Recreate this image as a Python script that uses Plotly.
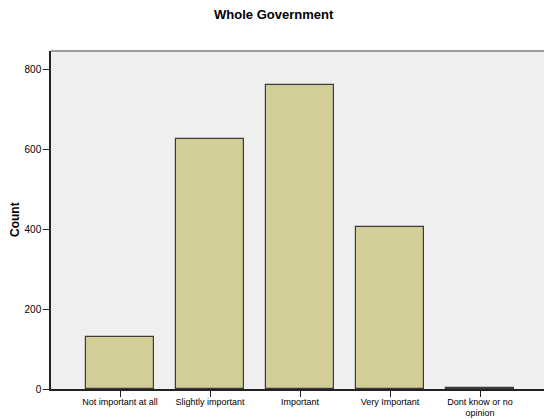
import plotly.graph_objects as go

categories = ["Not important at all", "Slightly important", "Important", "Very Important", "Dont know or no<br>opinion"]
counts = [131, 625, 760, 405, 3]
y_ticks = [0, 200, 400, 600, 800]

fig = go.Figure()
fig.add_trace(go.Bar(
    x=list(range(len(categories))), y=counts, width=0.755,
    marker=dict(color="#D3CE98", line=dict(color="#3C3C3C", width=1.2)),
))
fig.update_layout(
    width=544, height=419,
    margin=dict(l=51, r=0, t=51, b=30, autoexpand=False),
    paper_bgcolor="white", plot_bgcolor="#EFEFEF",
    font=dict(family="Liberation Sans, Arial, sans-serif", color="black"),
    title=dict(text="<b>Whole Government</b>", x=0.503, xanchor="center", y=0.965, yanchor="middle",
               font=dict(size=13)),
    showlegend=False,
    bargap=0,
)
fig.update_xaxes(
    range=[-0.767, 4.711], tickmode="array", tickvals=list(range(len(categories))),
    ticktext=categories, showgrid=False, zeroline=False, automargin=False,
    showline=True, linecolor="#222222", linewidth=1.5,
    ticks="outside", ticklen=6, tickcolor="#222222", tickfont=dict(size=9),
    ticklabelstandoff=-3,
)
fig.update_yaxes(
    range=[0, 845], tickmode="array", tickvals=y_ticks, showgrid=False, zeroline=False,
    automargin=False,
    showline=True, linecolor="#222222", linewidth=1.5,
    ticks="outside", ticklen=6, tickcolor="#222222", tickfont=dict(size=10),
)
fig.add_annotation(text="<b>Count</b>", xref="paper", yref="paper", x=0, y=0.5,
                   xshift=-36, xanchor="center", yanchor="middle", textangle=-90,
                   showarrow=False, font=dict(size=12))
fig.add_shape(type="line", xref="paper", yref="paper", x0=0, x1=1, y0=1, y1=1,
              line=dict(color="#808080", width=1.5))
fig.write_html("out.html", config={"displayModeBar": False},
               post_script="document.body.style.margin='0';document.body.style.overflow='hidden';")
